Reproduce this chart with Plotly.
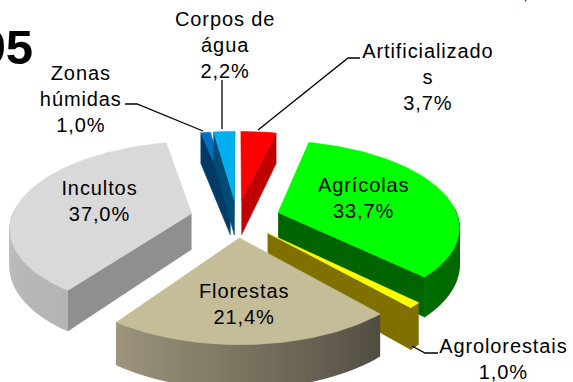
import numpy as np
import plotly.graph_objects as go

categories = ["Artificializados", "Agrícolas", "Agroflorestais", "Florestas", "Incultos", "Zonas húmidas", "Corpos de água"]
shares = [3.7, 33.7, 1.0, 21.4, 37.0, 1.0, 2.2]
top_colors = ["#FF0000", "#00FF00", "#FFFF00", "#C4BD97", "#D9D9D9", "#0070C0", "#00B0F0"]
side_colors = ["#C00000", "#006400", "#7F7000", "#8C8570", "#8F8F8F", "#003A66", "#004C75"]
rim_colors = ["#C00000", "#006400", "#7F7000", "#8C8570", "#BEBEBE", "#003A66", "#004C75"]
rim_fade = [(1, 1), (0.85, 1.1), (1, 1), (0.58, 1.12), (0.95, 1.08), (1, 1), (1, 1)]
draw_order = [5, 6, 0, 1, 4, 2, 3]
pulls = [0.22, 0.24, 0.24, 0.23, 0.26, 0.22, 0.22]

CX, CY, RX, RY, K, DEPTH = 237, 218, 180, 84, 0.15, 36


def project(X, Z, drop=0.0):
    s = 1 / (1 + K * Z)
    return CX + RX * X * s, CY - RY * Z * s + drop * DEPTH * s


def shade(hexcol, f):
    r, g, b = [int(hexcol[i:i + 2], 16) for i in (1, 3, 5)]
    return f"rgb({int(min(255, r * f))},{int(min(255, g * f))},{int(min(255, b * f))})"


fig = go.Figure()


def poly(xs, ys, color):
    fig.add_trace(go.Scatter(x=list(xs), y=list(ys), mode="lines", fill="toself", fillcolor=color,
                             line=dict(color=color, width=0.6), hoverinfo="skip", showlegend=False))


edges = np.cumsum([0] + shares) / 100 * 2 * np.pi
for i in draw_order:
    a0, a1 = edges[i], edges[i + 1]
    mid = (a0 + a1) / 2
    ox, oz = pulls[i] * np.sin(mid), pulls[i] * np.cos(mid)
    th = np.linspace(a0, a1, max(6, int((a1 - a0) * 40)))
    X = ox + np.sin(th)
    Z = oz + np.cos(th)
    ax, ay = project(ox, oz)
    # radial side faces that look toward the viewer
    for a, nrm in ((a0, a0 - np.pi / 2), (a1, a1 + np.pi / 2)):
        if np.cos(nrm) < 0:
            ex, ez = ox + np.sin(a), oz + np.cos(a)
            p1 = project(ox, oz)
            p2 = project(ex, ez)
            p3 = project(ex, ez, 1)
            p4 = project(ox, oz, 1)
            poly([p1[0], p2[0], p3[0], p4[0]], [p1[1], p2[1], p3[1], p4[1]], side_colors[i])
    # outer rim, in shaded overlapping strips
    n = len(th)
    for j in range(n - 1):
        if np.cos((th[j] + th[j + 1]) / 2) > 0.05:
            continue
        f = rim_fade[i][0] + (rim_fade[i][1] - rim_fade[i][0]) * j / max(1, n - 2)
        k = min(j + 2, n - 1)
        p1 = project(X[j], Z[j])
        p2 = project(X[k], Z[k])
        p3 = project(X[k], Z[k], 1)
        p4 = project(X[j], Z[j], 1)
        poly([p1[0], p2[0], p3[0], p4[0]], [p1[1], p2[1], p3[1], p4[1]], shade(rim_colors[i], f))
    # top face
    tx, ty = project(X, Z)
    poly([ax, *tx, ax], [ay, *ty, ay], top_colors[i])

# leader lines
leaders = [
    ([360, 348, 258], [58, 58, 130]),
    ([222, 222], [80, 129]),
    ([125, 137, 203], [104, 104, 131]),
    ([412, 425, 438], [346, 353, 353]),
]
for lx, ly in leaders:
    fig.add_trace(go.Scatter(x=lx, y=ly, mode="lines", line=dict(color="black", width=1.3),
                             hoverinfo="skip", showlegend=False))

FONT = dict(family="Liberation Sans, Arial, sans-serif", size=20, color="black")
labels = [
    ("Corpos de<br>água<br>2,2%", 225, 45),
    ("Zonas<br>húmidas<br>1,0%", 81, 99),
    ("Artificializado<br>s<br>3,7%", 428, 77),
    ("Incultos<br>37,0%", 99, 201),
    ("Agrícolas<br>33,7%", 363, 198),
    ("Florestas<br>21,4%", 244, 304),
    ("Agrolorestais<br>1,0%", 503, 359),
]
for text, x, y in labels:
    fig.add_annotation(x=x, y=y, text=text, showarrow=False, font=FONT, xanchor="center", yanchor="middle", align="center")
fig.add_annotation(x=35, y=47, text="<b>1995</b>", showarrow=False, xanchor="right", yanchor="middle",
                   font=dict(family="Liberation Sans, Arial, sans-serif", size=49, color="black"))
fig.add_annotation(xref="paper", yref="paper", x=525 / 573, y=1 + 7 / 382, text=",", showarrow=False,
                   xanchor="center", yanchor="middle",
                   font=dict(family="Liberation Sans, Arial, sans-serif", size=18, color="black"))

fig.update_layout(width=573, height=382, margin=dict(l=0, r=0, t=0, b=0), paper_bgcolor="white", plot_bgcolor="white",
                  xaxis=dict(range=[0, 573], visible=False, fixedrange=True),
                  yaxis=dict(range=[382, 0], visible=False, fixedrange=True), showlegend=False)
post = """
document.body.style.margin = '0';
document.body.style.overflow = 'hidden';
document.querySelectorAll('.annotation-text').forEach(function (t) {
  if (t.textContent.indexOf('95') < 0 && t.textContent !== ',') { t.style.letterSpacing = '0.9px'; }
});
"""
fig.write_html("out.html", post_script=post, config={"displayModeBar": False})
